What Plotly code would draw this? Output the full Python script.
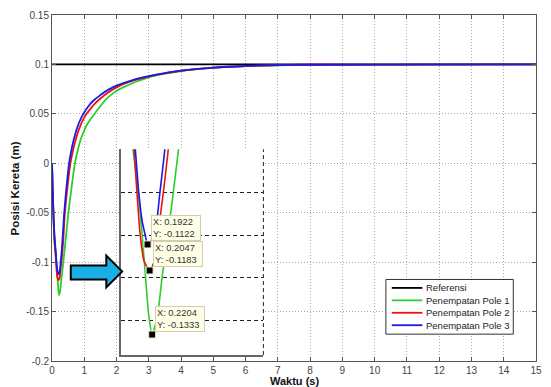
import plotly.graph_objects as go

# ---------------- data ----------------
series_names = ["Referensi", "Penempatan Pole 1", "Penempatan Pole 2", "Penempatan Pole 3"]
series_colors = ["#000000", "#2ecc2e", "#ee1111", "#1a1ae6"]

t_ref = [0, 15]
y_ref = [0.1, 0.1]

t_p1 = [0, 0.02, 0.05, 0.08, 0.103, 0.135, 0.159, 0.18, 0.2, 0.2204, 0.24, 0.26, 0.281, 0.317,
        0.35, 0.382, 0.43, 0.51, 0.6, 0.71, 0.79, 0.87, 0.97, 1.1, 1.32, 1.5, 1.68, 1.9, 2.09,
        2.29, 2.6, 3.0, 3.5, 4.0, 5.0, 6.0, 7.0, 8.0, 10, 15]
y_p1 = [0, -0.027, -0.06, -0.082, -0.09, -0.10, -0.11, -0.12, -0.129, -0.1333, -0.131, -0.127,
        -0.12, -0.11, -0.10, -0.09, -0.075, -0.05, -0.026, 0.0, 0.012, 0.022, 0.031, 0.040,
        0.050, 0.058, 0.065, 0.071, 0.075, 0.078, 0.0825, 0.087, 0.0906, 0.0933, 0.0965,
        0.0982, 0.0991, 0.0996, 0.0999, 0.1]

t_p2 = [0, 0.02, 0.05, 0.08, 0.109, 0.127, 0.147, 0.17, 0.2047, 0.235, 0.255, 0.289, 0.319,
        0.35, 0.40, 0.48, 0.57, 0.65, 0.72, 0.82, 0.93, 1.07, 1.2, 1.35, 1.5, 1.75, 2.0, 2.5,
        3.0, 3.5, 4.0, 5.0, 6.0, 7.0, 8.0, 10, 15]
y_p2 = [0, -0.025, -0.057, -0.078, -0.09, -0.10, -0.11, -0.116, -0.1183, -0.116, -0.11,
        -0.10, -0.09, -0.077, -0.05, -0.024, 0.0, 0.013, 0.022, 0.033, 0.042, 0.050, 0.0555,
        0.061, 0.0655, 0.0718, 0.0768, 0.0835, 0.0877, 0.0910, 0.0936, 0.0967, 0.0983,
        0.0992, 0.0997, 0.0999, 0.1]

t_p3 = [0, 0.02, 0.05, 0.08, 0.117, 0.138, 0.16, 0.178, 0.1922, 0.21, 0.236, 0.268, 0.298,
        0.33, 0.38, 0.45, 0.53, 0.6, 0.66, 0.75, 0.85, 0.97, 1.1, 1.27, 1.5, 1.75, 2.0, 2.5,
        3.0, 3.5, 4.0, 5.0, 6.0, 7.0, 8.0, 10, 15]
y_p3 = [0, -0.025, -0.055, -0.075, -0.09, -0.10, -0.107, -0.110, -0.1122, -0.1115, -0.11,
        -0.10, -0.09, -0.075, -0.05, -0.024, 0.0, 0.013, 0.022, 0.033, 0.042, 0.050, 0.0565,
        0.063, 0.069, 0.0745, 0.0785, 0.0842, 0.0882, 0.0913, 0.0938, 0.0968, 0.0984,
        0.0993, 0.0997, 0.0999, 0.1]

tip_x = [0.1922, 0.2047, 0.2204]
tip_y = [-0.1122, -0.1183, -0.1333]

x_ticks = list(range(0, 16))
y_ticks = [0.15, 0.1, 0.05, 0, -0.05, -0.1, -0.15, -0.2]
y_tick_labels = ["0.15", "0.1", "0.05", "0", "-0.05", "-0.1", "-0.15", "-0.2"]
inset_grid = [-0.13, -0.12, -0.11, -0.10, -0.09]

x_title = "Waktu (s)"
y_title = "Posisi Kereta (m)"

# ---------------- layout geometry ----------------
W, H = 551, 387
ML, MR, MT, MB = 52, 9, 13, 26
PW, PH = W - ML - MR, H - MT - MB


def px(x):
    return (x - ML) / PW


def py(y):
    return (H - MB - y) / PH


inset_xr = [0.03, 0.903]
inset_yr = [-0.1381, -0.0899]

FONT = "Arial, Liberation Sans, Helvetica, sans-serif"

fig = go.Figure()

all_t = [t_ref, t_p1, t_p2, t_p3]
all_y = [y_ref, y_p1, y_p2, y_p3]

# main traces
for name, col, tt, yy in zip(series_names, series_colors, all_t, all_y):
    fig.add_trace(go.Scatter(x=tt, y=yy, mode="lines", name=name,
                             line=dict(color=col, width=1.8, shape="spline", smoothing=1.0),
                             showlegend=False, xaxis="x", yaxis="y"))

# inset traces
for name, col, tt, yy in zip(series_names[1:], series_colors[1:], all_t[1:], all_y[1:]):
    fig.add_trace(go.Scatter(x=tt, y=yy, mode="lines", name=name,
                             line=dict(color=col, width=1.6, shape="spline", smoothing=0.6),
                             showlegend=False, xaxis="x2", yaxis="y2"))

fig.add_trace(go.Scatter(x=tip_x, y=tip_y, mode="markers", showlegend=False,
                         marker=dict(symbol="square", size=7, color="black",
                                     line=dict(color="#f5f0c8", width=1)),
                         xaxis="x2", yaxis="y2"))

shapes = []
# inset white background
shapes.append(dict(type="rect", xref="x2", yref="y2", x0=inset_xr[0], x1=inset_xr[1],
                   y0=inset_yr[0], y1=inset_yr[1], fillcolor="white", line=dict(width=0),
                   layer="below"))
# inset right dashed border
shapes.append(dict(type="line", xref="x2 domain", yref="y2 domain", x0=1, x1=1, y0=0, y1=1,
                   line=dict(color="#222", width=1, dash="4px,3px")))

# arrow (pixel outline)
arrow_pts = [(71, 265), (107, 265), (107, 255), (123, 271), (107, 287), (107, 279), (71, 279)]
path = "M " + " L ".join(f"{px(a):.4f},{py(b):.4f}" for a, b in arrow_pts) + " Z"
shapes.append(dict(type="path", xref="paper", yref="paper", path=path,
                   fillcolor="#19aee6", line=dict(color="black", width=2), layer="above"))

# manual legend
lx0, ly0, lx1, ly1 = 390, 279, 519, 334
shapes.append(dict(type="rect", xref="paper", yref="paper", x0=px(lx0), x1=px(lx1),
                   y0=py(ly1), y1=py(ly0), fillcolor="white",
                   line=dict(color="#333", width=1), layer="above"))
annotations = []
row_y = [287.5, 300, 312.5, 325]
for name, col, ry in zip(series_names, series_colors, row_y):
    shapes.append(dict(type="line", xref="paper", yref="paper", x0=px(396), x1=px(427),
                       y0=py(ry), y1=py(ry), line=dict(color=col, width=1.8), layer="above"))
    annotations.append(dict(text=name, xref="paper", yref="paper", x=px(429), y=py(ry),
                            xanchor="left", yanchor="middle", showarrow=False,
                            font=dict(family=FONT, size=9.5, color="#222")))

# data tips
for tx, ty in zip(tip_x, tip_y):
    annotations.append(dict(text=f"X: {tx:.4f}<br>Y: {ty:.4f}", xref="x2", yref="y2",
                            x=tx, y=ty, xanchor="left", yanchor="bottom", xshift=3, yshift=3,
                            showarrow=False, align="left", width=46,
                            bgcolor="#ffffe6", bordercolor="#cfcfb0", borderwidth=1,
                            borderpad=1, font=dict(family=FONT, size=9.3, color="#333")))

# axis titles
annotations.append(dict(text=f"<b>{x_title}</b>", xref="paper", yref="paper",
                        x=0.5, y=py(387), xanchor="center", yanchor="bottom", showarrow=False,
                        yshift=-1, borderpad=0,
                        font=dict(family=FONT, size=11, color="#111")))
annotations.append(dict(text=f"<b>{y_title}</b>", xref="paper", yref="paper",
                        x=px(15), y=0.5, xanchor="center", yanchor="middle", showarrow=False,
                        textangle=-90, font=dict(family=FONT, size=11.5, color="#111")))

fig.update_layout(
    width=W, height=H,
    margin=dict(l=ML, r=MR, t=MT, b=MB),
    paper_bgcolor="white", plot_bgcolor="white",
    showlegend=False,
    font=dict(family=FONT, size=10, color="#444"),
    xaxis=dict(range=[0, 15], tickvals=x_ticks, ticktext=[str(v) for v in x_ticks],
               showgrid=True, gridcolor="#aaaaaa", griddash="1px,2px", gridwidth=1,
               zeroline=False, showline=True, linecolor="#555", linewidth=1, mirror="ticks",
               ticks="inside", ticklen=4, tickcolor="#555",
               tickfont=dict(family=FONT, size=10, color="#444"), domain=[0, 1]),
    yaxis=dict(range=[-0.2, 0.15], tickvals=y_ticks, ticktext=y_tick_labels,
               showgrid=True, gridcolor="#aaaaaa", griddash="1px,2px", gridwidth=1,
               zeroline=False, showline=True, linecolor="#555", linewidth=1, mirror="ticks",
               ticks="inside", ticklen=4, tickcolor="#555",
               tickfont=dict(family=FONT, size=10, color="#444"), domain=[0, 1]),
    xaxis2=dict(range=inset_xr, domain=[px(122), px(266)], anchor="y2",
                showgrid=False, zeroline=False, showticklabels=False, ticks="",
                showline=True, linecolor="#666", linewidth=1.5, mirror=False),
    yaxis2=dict(range=inset_yr, domain=[py(355), py(148)], anchor="x2",
                tickvals=inset_grid, showgrid=True, gridcolor="#222", griddash="4px,3px",
                gridwidth=1, zeroline=False, showticklabels=False, ticks="",
                showline=True, linecolor="#666", linewidth=1.5, mirror=False),
    shapes=shapes,
    annotations=annotations,
)

fig.write_html("out.html", config={"displayModeBar": False},
               post_script="document.body.style.margin='0px';document.body.style.overflow='hidden';")
